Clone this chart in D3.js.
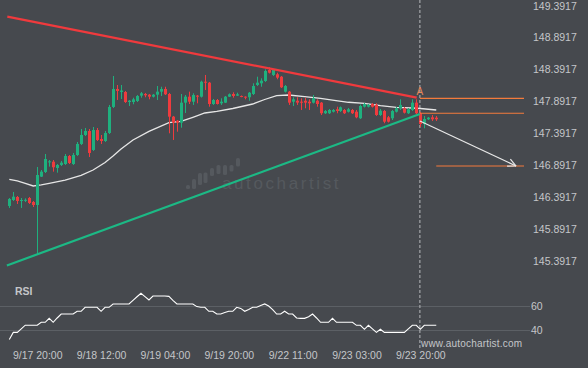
<!DOCTYPE html>
<html>
<head>
<meta charset="utf-8">
<script src="https://cdn.jsdelivr.net/npm/d3@7"></script>
<style>
  html, body { margin: 0; padding: 0; background: #46494e; }
  svg { display: block; }
</style>
</head>
<body>
<div id="chart"></div>
<script>
// hourly candles, [open, high, low, close]
var ohlc = [
  [146.256,146.380,146.225,146.365],[146.349,146.474,146.334,146.401],[146.396,146.411,146.287,146.334],
  [146.334,146.380,146.225,146.349],[146.341,146.374,146.318,146.352],[146.380,146.396,146.287,146.303],
  [146.318,146.334,146.240,146.271],[146.271,146.863,145.493,146.738],[146.712,146.816,146.707,146.790],
  [146.785,147.065,146.769,146.987],[146.940,146.971,146.868,146.950],[146.945,146.971,146.790,146.858],
  [146.847,146.909,146.774,146.894],[146.894,146.956,146.878,146.930],[146.909,147.065,146.894,147.034],
  [147.034,147.049,146.909,146.925],[146.909,147.081,146.894,147.049],[147.049,147.252,147.034,147.221],
  [147.221,147.454,147.205,147.361],[147.361,147.470,147.345,147.423],[147.423,147.454,147.018,147.081],
  [147.128,147.485,147.112,147.438],[147.438,147.470,147.267,147.283],[147.298,147.361,147.221,147.267],
  [147.267,147.423,147.252,147.392],[147.392,147.828,147.376,147.797],[147.797,148.279,147.781,148.077],
  [148.077,148.139,147.906,148.046],[148.030,148.139,147.921,148.053],[148.030,148.046,147.859,147.874],
  [147.874,147.905,147.812,147.894],[147.874,147.941,147.839,147.916],[147.890,147.983,147.874,147.968],
  [147.973,148.030,147.941,148.010],[147.999,148.015,147.948,147.979],[147.988,147.999,147.916,147.957],
  [147.957,147.999,147.944,147.988],[147.988,148.123,147.905,148.035],[148.035,148.112,147.968,148.077],
  [148.077,148.112,147.983,147.994],[147.999,148.015,147.387,147.646],[147.646,147.657,147.283,147.552],
  [147.583,147.594,147.412,147.552],[147.552,147.999,147.474,147.864],[147.864,147.983,147.703,147.957],
  [147.957,148.035,147.843,147.879],[147.879,148.010,147.828,147.983],[147.973,147.983,147.854,147.957],
  [147.957,148.206,147.944,148.190],[148.190,148.295,148.061,148.175],[148.175,148.186,147.801,147.843],
  [147.843,147.921,147.828,147.905],[147.905,147.921,147.835,147.843],[147.854,147.932,147.828,147.879],
  [147.864,147.968,147.859,147.957],[147.957,148.007,147.952,147.994],[147.999,148.025,147.941,147.968],
  [147.973,148.019,147.968,147.994],[147.968,147.976,147.948,147.957],[147.957,147.963,147.916,147.948],
  [147.948,148.030,147.894,148.019],[147.999,148.165,147.983,148.123],[148.139,148.268,148.123,148.175],
  [148.165,148.243,148.112,148.206],[148.201,148.383,148.186,148.357],[148.372,148.414,148.318,148.330],
  [148.295,148.388,148.279,148.372],[148.306,148.330,148.228,148.253],[148.268,148.279,148.092,148.103],
  [148.035,148.139,148.022,148.123],[148.035,148.046,147.828,147.864],[147.879,147.948,147.812,147.916],
  [147.894,147.948,147.828,147.864],[147.879,147.932,147.750,147.864],[147.894,147.941,147.776,147.864],
  [147.879,147.916,147.750,147.854],[147.864,147.983,147.851,147.932],[147.894,147.916,147.801,147.843],
  [147.864,147.874,147.672,147.699],[147.699,147.750,147.687,147.734],[147.699,147.765,147.687,147.750],
  [147.723,147.765,147.711,147.750],[147.761,147.801,147.699,147.734],[147.734,147.804,147.719,147.792],
  [147.750,147.765,147.687,147.699],[147.723,147.781,147.711,147.761],[147.750,147.765,147.687,147.699],
  [147.723,147.750,147.621,147.636],[147.621,147.835,147.610,147.812],[147.801,147.859,147.789,147.843],
  [147.801,147.843,147.789,147.828],[147.843,147.859,147.789,147.801],[147.828,147.854,147.657,147.672],
  [147.672,147.765,147.657,147.739],[147.734,147.750,147.543,147.568],[147.636,147.657,147.555,147.568],
  [147.621,147.750,147.594,147.734],[147.723,147.796,147.711,147.776],[147.781,147.916,147.750,147.828],
  [147.776,147.796,147.695,147.708],[147.699,147.781,147.687,147.761],[147.750,147.916,147.734,147.864],
  [147.864,147.916,147.687,147.699],[147.699,147.719,147.485,147.532],[147.532,147.657,147.465,147.610],
  [147.605,147.641,147.594,147.630],[147.636,147.672,147.579,147.605],[147.630,147.657,147.579,147.605]
];

// moving average, read at a few candle positions
var maIdx = [0,2,4,6,8,10,14,18,21,24,26,28,31,35,40,43,46,49,52,56,61,64,67,70,74,78,81,85,89,93,97,101,103,107];
var maVal = [146.671,146.645,146.609,146.567,146.583,146.606,146.657,146.731,146.816,146.933,147.034,147.143,
             147.283,147.418,147.552,147.571,147.636,147.703,147.727,147.773,147.843,147.913,147.973,147.983,
             147.957,147.929,147.905,147.870,147.854,147.817,147.792,147.781,147.773,147.750];

var rsi = [32,38,38,41,44,44,44,44,46.4,46.4,49.7,46.4,50,53.3,53.3,53.3,53.3,55.6,55.6,58.9,
           58.9,58.9,58.9,55.6,58.9,58.9,61.7,61.7,61.7,61.7,61.7,64.7,67.7,70.6,67.8,65,68.3,68.3,68.3,68.3,
           68,64.7,61.7,61.7,61.7,61.7,61.7,59.5,58.9,58.9,55.6,55.6,53.3,53.3,54.5,55.6,55.6,58.9,58,55.6,
           57,58.9,58.9,60.5,61.7,60,57,53.3,53.3,55.6,53.3,53.3,50,49.7,49.7,51,53.3,50,46.4,46.4,
           46.4,49.7,46.4,46.4,46.4,46.4,46.4,43.9,43.9,40.6,43.9,41,38,40.6,38,38,38,38,38,38,
           41,43.9,43.9,40.6,43.9,43.9,43.9,43.9];

var xTickIdx = [7, 23, 39, 55, 71, 87, 103];
var xLabels = ["9/17 20:00", "9/18 12:00", "9/19 04:00", "9/19 20:00", "9/22 11:00", "9/23 03:00", "9/23 20:00"];
var yTicks = [149.3917, 148.8917, 148.3917, 147.8917, 147.3917, 146.8917, 146.3917, 145.8917, 145.3917];
var rsiTicks = [60, 40];

// pattern: [index, price]
var resistance = [[-0.5, 149.202], [102.1, 147.943]];
var support = [[-0.6, 145.330], [102.9, 147.688]];
var breakIdx = 102.9;
var levels = [147.932, 147.699];
var target = 146.878;
var forecast = [[102.9, 147.579], [127.0, 146.878]];

var width = 588, height = 368;
var green = "#1fb07e", red = "#ef3b3e", orange = "#f47b3c";

var svg = d3.select("#chart").append("svg")
  .attr("width", width)
  .attr("height", height)
  .style("font-family", "'Liberation Sans', Arial, sans-serif");

svg.append("rect").attr("width", width).attr("height", height).attr("fill", "#46494e");

var x = d3.scaleLinear().domain([0, 103]).range([9.3, 420.3]);
var y = d3.scaleLinear().domain([145.3917, 149.3917]).range([261.5, 4.5]);
var ry = d3.scaleLinear().domain([40, 60]).range([330, 306]);

// watermark
var wm = svg.append("g").attr("fill", "#55595e");
var logoBars = [[188, 185, 189], [194, 179, 189], [200, 173, 185], [205.5, 172.5, 183], [212, 168, 176],
                [218.5, 165, 174], [225, 165, 175], [231.5, 165, 171.5], [238, 158, 166.5]];
logoBars.forEach(function(b) {
  wm.append("rect").attr("x", b[0] - 2).attr("y", b[1]).attr("width", 4).attr("height", b[2] - b[1]).attr("rx", 1.5);
});
wm.append("text").attr("x", 222).attr("y", 189)
  .attr("font-size", 17).attr("letter-spacing", 2.6).text("autochartist");

// y axis
var yAxis = svg.append("g")
  .attr("transform", "translate(533,0)")
  .call(d3.axisRight(y).tickValues(yTicks).tickSize(0).tickPadding(0).tickFormat(function(d) { return d.toFixed(4); }));
yAxis.select(".domain").remove();
yAxis.selectAll("text").attr("fill", "#c4c6c9").attr("font-size", 10.5).attr("font-family", "'Liberation Sans', Arial, sans-serif");
yAxis.selectAll(".tick").filter(function(d) { return d === yTicks[0]; })
  .select("text").attr("dy", "0.5em");

// x axis
var xAxis = svg.append("g")
  .attr("transform", "translate(0,352)")
  .call(d3.axisBottom(x).tickValues(xTickIdx).tickSize(0).tickPadding(0).tickFormat(function(d, i) { return xLabels[i]; }));
xAxis.select(".domain").remove();
xAxis.selectAll("text").attr("fill", "#c4c6c9").attr("font-size", 10.5).attr("font-family", "'Liberation Sans', Arial, sans-serif");

// rsi panel
svg.append("g").selectAll("line").data(rsiTicks).enter().append("line")
  .attr("x1", 0).attr("x2", 530)
  .attr("y1", function(d) { return ry(d) + 0.5; }).attr("y2", function(d) { return ry(d) + 0.5; })
  .attr("stroke", "#5c6065").attr("stroke-width", 1);
svg.append("g").selectAll("text").data(rsiTicks).enter().append("text")
  .attr("x", 531).attr("y", function(d) { return ry(d); }).attr("dy", "0.35em")
  .attr("fill", "#c4c6c9").attr("font-size", 10.5).text(function(d) { return d; });
svg.append("text").attr("x", 15).attr("y", 295)
  .attr("fill", "#c4c6c9").attr("font-size", 10.5).attr("font-weight", "bold").text("RSI");
svg.append("path")
  .datum(rsi)
  .attr("d", d3.line().x(function(d, i) { return x(i); }).y(function(d) { return ry(d); }))
  .attr("fill", "none").attr("stroke", "#ffffff").attr("stroke-width", 1.1);

// break line
svg.append("line")
  .attr("x1", x(breakIdx)).attr("x2", x(breakIdx)).attr("y1", 0).attr("y2", 348)
  .attr("stroke", "#b9bbbe").attr("stroke-width", 1).attr("stroke-dasharray", "3,2");

// moving average
var ma = maIdx.map(function(d, i) { return [d, maVal[i]]; });
svg.append("path")
  .datum(ma)
  .attr("d", d3.line().x(function(d) { return x(d[0]); }).y(function(d) { return y(d[1]); }))
  .attr("fill", "none").attr("stroke", "#e6e6e6").attr("stroke-width", 1.3);

// candles
var candles = svg.append("g").selectAll("g").data(ohlc).enter().append("g");
candles.append("line")
  .attr("x1", function(d, i) { return Math.round(x(i)) + 0.5; })
  .attr("x2", function(d, i) { return Math.round(x(i)) + 0.5; })
  .attr("y1", function(d) { return y(d[1]); })
  .attr("y2", function(d) { return y(d[2]); })
  .attr("stroke", function(d) { return d[3] >= d[0] ? green : red; });
candles.append("rect")
  .attr("x", function(d, i) { return Math.round(x(i)) - 1; })
  .attr("width", 3)
  .attr("y", function(d) { return y(Math.max(d[0], d[3])); })
  .attr("height", function(d) { return Math.max(1, Math.abs(y(d[0]) - y(d[3]))); })
  .attr("fill", function(d) { return d[3] >= d[0] ? green : red; });

// trend lines
var pl = d3.line().x(function(d) { return x(d[0]); }).y(function(d) { return y(d[1]); });
svg.append("path").datum(resistance).attr("d", pl)
  .attr("stroke", "#f03a3d").attr("stroke-width", 2.2).attr("fill", "none");
svg.append("path").datum(support).attr("d", pl)
  .attr("stroke", "#1cb985").attr("stroke-width", 2.2).attr("fill", "none");

// levels
var rightIdx = x.invert(524);
svg.append("g").selectAll("line").data(levels).enter().append("line")
  .attr("x1", x(breakIdx)).attr("x2", x(rightIdx))
  .attr("y1", function(d) { return y(d); }).attr("y2", function(d) { return y(d); })
  .attr("stroke", orange).attr("stroke-width", 1.2);
svg.append("line")
  .attr("x1", x(107)).attr("x2", x(rightIdx))
  .attr("y1", y(target)).attr("y2", y(target))
  .attr("stroke", orange).attr("stroke-width", 1.2);

svg.append("text")
  .attr("x", x(breakIdx)).attr("y", y(levels[0]) - 3)
  .attr("text-anchor", "middle").attr("fill", "#e8875a").attr("font-size", 10).text("A");

// forecast arrow
var x0 = x(forecast[0][0]), y0 = y(forecast[0][1]);
var x1 = x(forecast[1][0]), y1 = y(forecast[1][1]);
svg.append("line").attr("x1", x0).attr("y1", y0).attr("x2", x1).attr("y2", y1)
  .attr("stroke", "#e8e8e8").attr("stroke-width", 1.2);
var ang = Math.atan2(y1 - y0, x1 - x0);
[-0.45, 0.45].forEach(function(a) {
  svg.append("line")
    .attr("x1", x1).attr("y1", y1)
    .attr("x2", x1 - 9 * Math.cos(ang + a)).attr("y2", y1 - 9 * Math.sin(ang + a))
    .attr("stroke", "#e8e8e8").attr("stroke-width", 1.2);
});

svg.append("text").attr("x", 421).attr("y", 347)
  .attr("fill", "#c4c6c9").attr("font-size", 10).attr("letter-spacing", 0.2)
  .text("www.autochartist.com");
</script>
</body>
</html>
